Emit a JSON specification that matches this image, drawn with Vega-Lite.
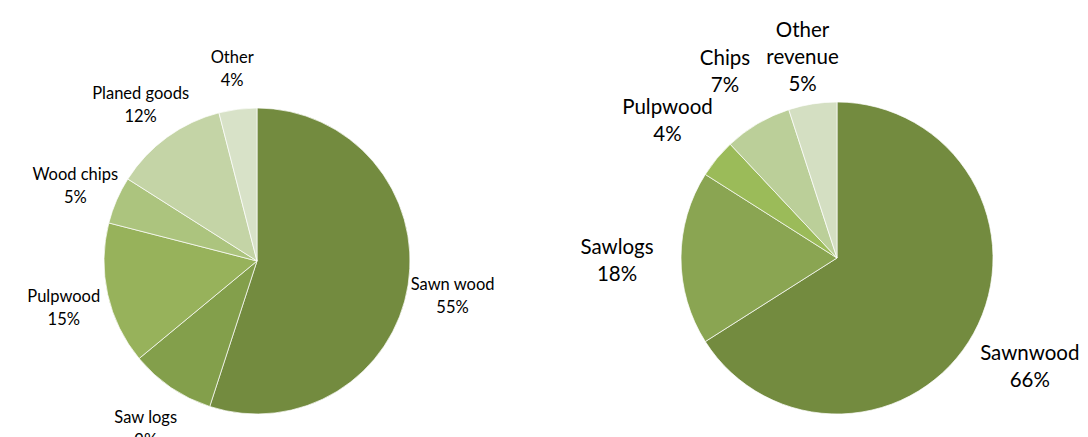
{
  "$schema": "https://vega.github.io/schema/vega-lite/v6.json",
  "padding": 0,
  "spacing": 72,
  "bounds": "flush",
  "resolve": {"scale": {"color": "independent", "theta": "independent"}},
  "config": {"view": {"stroke": null}, "font": "Lato", "text": {"font": "Lato"}},
  "datasets": {
    "left": [
      {"category": "Sawn wood", "label": "Sawn wood\n55%", "value": 55, "order": 1},
      {"category": "Saw logs", "label": "Saw logs\n9%", "value": 9, "order": 2},
      {"category": "Pulpwood", "label": "Pulpwood\n15%", "value": 15, "order": 3},
      {"category": "Wood chips", "label": "Wood chips\n5%", "value": 5, "order": 4},
      {"category": "Planed goods", "label": "Planed goods\n12%", "value": 12, "order": 5},
      {"category": "Other", "label": "Other\n4%", "value": 4, "order": 6}
    ],
    "right": [
      {"category": "Sawnwood", "label": "Sawnwood\n66%", "value": 66, "order": 1},
      {"category": "Sawlogs", "label": "Sawlogs\n18%", "value": 18, "order": 2},
      {"category": "Pulpwood", "label": "Pulpwood\n4%", "value": 4, "order": 3},
      {"category": "Chips", "label": "Chips\n7%", "value": 7, "order": 4},
      {"category": "Other revenue", "label": "Other\nrevenue\n5%", "value": 5, "order": 5}
    ]
  },
  "hconcat": [
    {
      "width": 514,
      "height": 522,
      "data": {"name": "left"},
      "encoding": {
        "theta": {"field": "value", "type": "quantitative", "stack": true},
        "order": {"field": "order", "type": "quantitative"}
      },
      "layer": [
        {
          "mark": {"type": "arc", "outerRadius": 153, "stroke": "white", "strokeWidth": 0.7},
          "encoding": {
            "color": {
              "field": "category",
              "type": "nominal",
              "legend": null,
              "scale": {
                "domain": ["Sawn wood", "Saw logs", "Pulpwood", "Wood chips", "Planed goods", "Other"],
                "range": ["#738B3F", "#839F4B", "#97B25B", "#ACC47E", "#C4D4A6", "#D8E2C8"]
              }
            }
          }
        },
        {
          "mark": {"type": "text", "radius": 198, "dy": -7, "fontSize": 16.5, "lineHeight": 23, "lineBreak": "\n", "color": "#000000", "baseline": "middle", "align": "center"},
          "encoding": {"text": {"field": "label", "type": "nominal"}}
        }
      ]
    },
    {
      "width": 502,
      "height": 516,
      "data": {"name": "right"},
      "encoding": {
        "theta": {"field": "value", "type": "quantitative", "stack": true},
        "order": {"field": "order", "type": "quantitative"}
      },
      "layer": [
        {
          "mark": {"type": "arc", "outerRadius": 156, "stroke": "white", "strokeWidth": 0.7},
          "encoding": {
            "color": {
              "field": "category",
              "type": "nominal",
              "legend": null,
              "scale": {
                "domain": ["Sawnwood", "Sawlogs", "Pulpwood", "Chips", "Other revenue"],
                "range": ["#738B3F", "#8AA552", "#9BBB59", "#BBCF99", "#D4DFC2"]
              }
            }
          }
        },
        {
          "mark": {"type": "text", "radius": 220, "dy": -10, "fontSize": 20.5, "lineHeight": 27, "lineBreak": "\n", "color": "#000000", "baseline": "middle", "align": "center"},
          "encoding": {"text": {"field": "label", "type": "nominal"}}
        }
      ]
    }
  ]
}
